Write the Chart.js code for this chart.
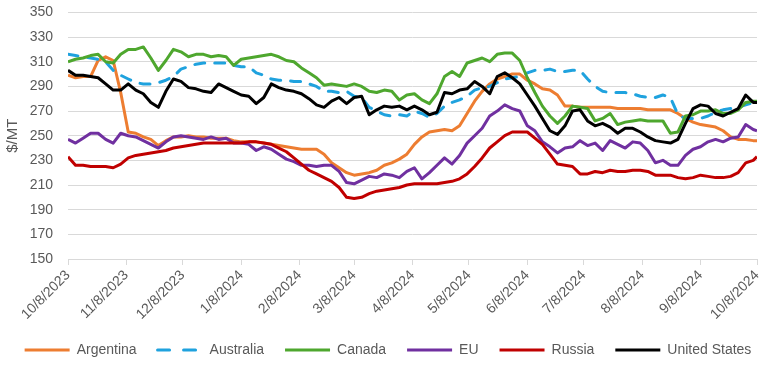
<!DOCTYPE html>
<html>
<head>
<meta charset="utf-8">
<script src="https://cdn.jsdelivr.net/npm/chart.js@4.4.0/dist/chart.umd.min.js"></script>
<style>
  html, body { margin: 0; padding: 0; background: #fff; }
</style>
</head>
<body>
<canvas id="precios-chart" width="776" height="367"></canvas>
<script>
// dias desde 10/8/2023
const days = [0, 4, 8, 12, 16, 20, 24, 28, 32, 36, 40, 44, 48, 52, 56, 60, 64, 68, 72, 76, 80, 84, 88, 92, 96, 100,
  104, 108, 112, 116, 120, 124, 128, 132, 136, 140, 144, 148, 152, 156, 160, 164, 168, 172, 176, 180, 184, 188, 192,
  196, 200, 204, 208, 212, 216, 220, 224, 228, 232, 236, 240, 244, 248, 252, 256, 260, 264, 268, 272, 276, 280, 284,
  288, 292, 296, 300, 304, 308, 312, 316, 320, 324, 328, 332, 336, 340, 344, 348, 352, 356, 360, 364, 366];

const tickDays = [0, 31, 61, 92, 123, 152, 183, 213, 244, 274, 305, 336, 366];
const tickLabels = ['10/8/2023', '11/8/2023', '12/8/2023', '1/8/2024', '2/8/2024', '3/8/2024', '4/8/2024',
  '5/8/2024', '6/8/2024', '7/8/2024', '8/8/2024', '9/8/2024', '10/8/2024'];

const argentina = [299, 297, 298, 298, 311, 314, 311, 285, 253, 252, 249, 247, 242, 246, 249, 249, 250, 249, 249, 248,
  248, 248, 246, 245, 245, 245, 244, 243, 242, 241, 240, 239, 239, 239, 235, 228, 224, 220, 218, 219, 220, 222, 226,
  228, 231, 235, 243, 249, 253, 254, 255, 254, 258, 268, 278, 286, 292, 296, 298, 300, 300, 295, 292, 288, 287, 283,
  274, 274, 273, 273, 273, 273, 273, 272, 272, 272, 272, 271, 271, 271, 271, 268, 264, 261, 259, 258, 257, 254, 249,
  247, 247, 246, 246];
const australia = [316, 315, 314, 313, 312, 310, 303, 299, 296, 293, 292, 292, 293, 295, 298, 304, 306, 308, 309, 309,
  309, 309, 307, 306, 306, 301, 299, 296, 295, 295, 294, 294, 292, 290, 286, 286, 285, 286, 282, 281, 273, 270, 267,
  266, 267, 266, 270, 268, 265, 268, 274, 277, 279, 282, 287, 289, 290, 293, 296, 297, 298, 301, 303, 303, 304, 302,
  302, 303, 303, 296, 290, 286, 285, 285, 285, 284, 282, 281, 281, 283, 281, 267, 264, 264, 264, 266, 269, 271, 272,
  273, 275, 277, 277];
const canada = [310, 312, 313, 315, 316, 310, 309, 316, 320, 320, 322, 313, 303, 311, 320, 318, 314, 316, 316, 314,
  315, 314, 307, 312, 313, 314, 315, 316, 314, 311, 310, 305, 301, 297, 291, 292, 291, 290, 292, 290, 286, 285, 287,
  286, 279, 283, 284, 279, 276, 284, 298, 302, 298, 309, 311, 313, 310, 316, 317, 317, 311, 297, 285, 274, 266, 260,
  266, 274, 273, 272, 262, 264, 268, 259, 261, 262, 263, 262, 262, 262, 252, 253, 266, 267, 270, 270, 271, 268, 268,
  271, 277, 278, 278];
const eu = [247, 244, 248, 252, 252, 247, 244, 252, 250, 249, 246, 243, 240, 245, 249, 250, 249, 248, 247, 249, 247,
  248, 244, 244, 243, 238, 241, 239, 235, 231, 229, 226, 226, 225, 226, 226, 221, 212, 211, 214, 217, 216, 219, 218,
  216, 221, 224, 215, 220, 226, 232, 227, 234, 244, 250, 256, 266, 270, 275, 272, 270, 258, 254, 245, 241, 236, 240,
  241, 246, 242, 244, 238, 246, 243, 240, 245, 244, 238, 228, 230, 226, 226, 234, 239, 241, 245, 247, 245, 248, 249,
  259, 255, 254];
const russia = [233, 226, 226, 225, 225, 225, 224, 227, 232, 234, 235, 236, 237, 238, 240, 241, 242, 243, 244, 244,
  244, 244, 244, 244, 245, 245, 244, 243, 240, 237, 232, 227, 222, 219, 216, 213, 208, 200, 199, 200, 203, 205, 206,
  207, 208, 210, 211, 211, 211, 211, 212, 213, 215, 219, 225, 232, 240, 245, 250, 253, 253, 253, 248, 243, 235, 227,
  226, 225, 219, 219, 221, 220, 222, 221, 221, 222, 222, 221, 218, 218, 218, 216, 215, 216, 218, 217, 216, 216, 217,
  220, 228, 230, 233];
const unitedStates = [303, 299, 299, 298, 297, 292, 287, 287, 292, 287, 284, 277, 273, 286, 296, 294, 289, 288, 286,
  285, 292, 289, 286, 283, 282, 276, 281, 292, 289, 287, 286, 284, 280, 275, 273, 278, 281, 276, 281, 282, 267, 271,
  274, 273, 274, 271, 274, 271, 267, 269, 285, 284, 287, 288, 294, 290, 284, 298, 301, 297, 292, 283, 274, 264, 254,
  251, 258, 270, 271, 262, 258, 260, 257, 252, 256, 256, 253, 249, 246, 245, 244, 247, 260, 272, 275, 274, 268, 266,
  269, 272, 283, 277, 277];

const FONT = 'Liberation Sans';
const GRIS = '#595959';

function puntos(valores) {
  return days.map((d, i) => ({ x: d, y: valores[i] }));
}

function serie(nombre, valores, color, orden, dash) {
  return {
    label: nombre,
    data: puntos(valores),
    borderColor: color,
    backgroundColor: color,
    borderWidth: 3,
    borderDash: dash || [],
    borderCapStyle: dash ? 'round' : 'butt',
    borderJoinStyle: 'round',
    pointRadius: 0,
    pointStyle: 'line',
    tension: 0,
    order: orden
  };
}

const ctx = document.getElementById('precios-chart').getContext('2d');

new Chart(ctx, {
  type: 'line',
  data: {
    datasets: [
      serie('Argentina', argentina, '#ED7D31', 6),
      serie('Australia', australia, '#1FA2DE', 5, [10, 10]),
      serie('Canada', canada, '#4EA72E', 4),
      serie('EU', eu, '#7030A0', 3),
      serie('Russia', russia, '#C00000', 2),
      serie('United States', unitedStates, '#000000', 1)
    ]
  },
  options: {
    responsive: false,
    animation: false,
    layout: { padding: { top: 12, right: 0, left: 0, bottom: 0 } },
    plugins: {
      legend: {
        display: true,
        position: 'bottom',
        labels: {
          usePointStyle: true,
          pointStyle: 'line',
          pointStyleWidth: 45,
          padding: 21,
          color: GRIS,
          font: { family: FONT, size: 14 },
          sort: (a, b) => a.datasetIndex - b.datasetIndex,
          generateLabels: (chart) => {
            const items = Chart.defaults.plugins.legend.labels.generateLabels(chart);
            items.forEach(item => {
              const ds = chart.data.datasets[item.datasetIndex];
              if (ds.borderDash.length) {
                item.lineDash = [12, 14];
                item.lineCap = 'round';
              }
            });
            return items;
          }
        }
      },
      tooltip: { enabled: false }
    },
    scales: {
      x: {
        type: 'linear',
        min: 0,
        max: 366,
        afterBuildTicks: (scale) => {
          scale.ticks = tickDays.map(v => ({ value: v }));
        },
        afterFit: (scale) => {
          scale.height = 63;
        },
        ticks: {
          autoSkip: false,
          minRotation: 45,
          maxRotation: 45,
          padding: 2,
          color: GRIS,
          font: { family: FONT, size: 14 },
          callback: (value) => tickLabels[tickDays.indexOf(value)]
        },
        grid: { drawOnChartArea: false, drawTicks: true, tickLength: 6, color: '#d9d9d9' },
        border: { color: '#d9d9d9' }
      },
      y: {
        min: 150,
        max: 350,
        afterFit: (scale) => {
          scale.width = 68;
        },
        ticks: {
          stepSize: 20,
          autoSkip: false,
          padding: 4,
          color: GRIS,
          font: { family: FONT, size: 14 }
        },
        grid: { color: '#d9d9d9', drawTicks: true, tickLength: 11, tickColor: 'rgba(0,0,0,0)' },
        border: { display: false },
        title: {
          display: true,
          text: '$/MT',
          color: GRIS,
          font: { family: FONT, size: 15 }
        }
      },
      // eje vacio solo para dejar el margen derecho del area de trazado
      margen: {
        type: 'linear',
        position: 'right',
        display: true,
        ticks: { display: false },
        grid: { display: false },
        border: { display: false },
        afterFit: (scale) => {
          scale.width = 19;
        }
      }
    }
  }
});
</script>
</body>
</html>
